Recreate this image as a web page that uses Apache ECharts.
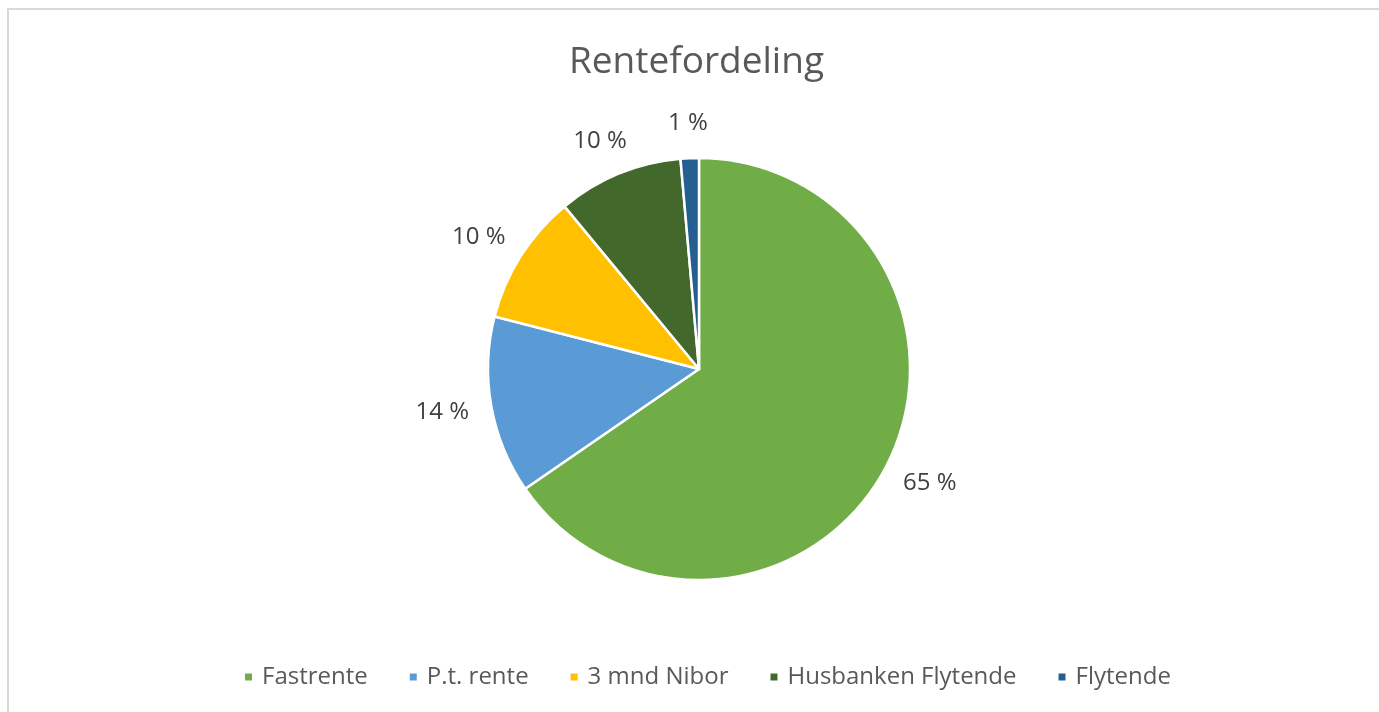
<!DOCTYPE html>
<html>
<head>
<meta charset="utf-8">
<title>Rentefordeling</title>
<script src="https://cdn.jsdelivr.net/npm/echarts@6/dist/echarts.min.js"></script>
<style>
  html, body { margin: 0; padding: 0; background: #ffffff; }
  #chart { width: 1379px; height: 712px; }
  /* light frame only on the left and top, the rest is cropped away */
  .frame {
    position: absolute; left: 7px; top: 8px; right: 0; bottom: 0;
    border-left: 2px solid #d9d9d9; border-top: 2px solid #d9d9d9;
    pointer-events: none;
  }
</style>
</head>
<body>
<div id="chart"></div>
<div class="frame"></div>
<script>
// data (share of loans, %)
const categories = ['Fastrente', 'P.t. rente', '3 mnd Nibor', 'Husbanken Flytende', 'Flytende']
const shares     = [65.4, 13.6, 10.0, 9.6, 1.4]
const colors     = ['#70AD47', '#5B9BD5', '#FFC000', '#43682B', '#255E91']

const FONT = '"Open Sans", sans-serif'

const chart = echarts.init(document.getElementById('chart'))

// Excel-style outside labels: centred on the ray through the slice middle,
// pushed out by half the label box (uses the invisible guide line ECharts computes)
function placeLabel(params) {
  const pts = params.labelLinePoints
  if (!pts) return {}
  const vx = pts[1][0] - pts[0][0]
  const vy = pts[1][1] - pts[0][1]
  const len = Math.hypot(vx, vy) || 1
  const dx = vx / len, dy = vy / len
  return {
    x: pts[1][0] + dx * params.labelRect.width / 2,
    y: pts[1][1] + dy * params.labelRect.height / 2,
    align: 'center',
    verticalAlign: 'middle'
  }
}

chart.setOption({
  backgroundColor: '#ffffff',
  color: colors,
  title: {
    text: 'Rentefordeling',
    left: 564,
    top: 39,
    textStyle: { color: '#595959', fontSize: 37, fontWeight: 'normal', fontFamily: FONT }
  },
  legend: {
    bottom: 18,
    left: 238,
    icon: 'rect',
    itemWidth: 9,
    itemHeight: 9,
    itemGap: 40,
    textStyle: { color: '#595959', fontSize: 24, fontFamily: FONT, padding: [0, 0, 0, 4] },
    data: categories
  },
  series: [{
    type: 'pie',
    center: [699, 369],
    radius: 211,
    startAngle: 90,
    clockwise: true,
    avoidLabelOverlap: false,
    itemStyle: { borderColor: '#ffffff', borderWidth: 2.5 },
    label: {
      position: 'outside',
      color: '#404040',
      fontSize: 24,
      fontFamily: FONT,
      formatter: (p) => Math.round(p.value) + ' %'
    },
    labelLine: { show: true, length: 23, length2: 0, lineStyle: { opacity: 0 } },
    labelLayout: placeLabel,
    emphasis: { scale: false },
    data: categories.map((name, i) => ({ name, value: shares[i] }))
  }]
})
</script>
</body>
</html>
